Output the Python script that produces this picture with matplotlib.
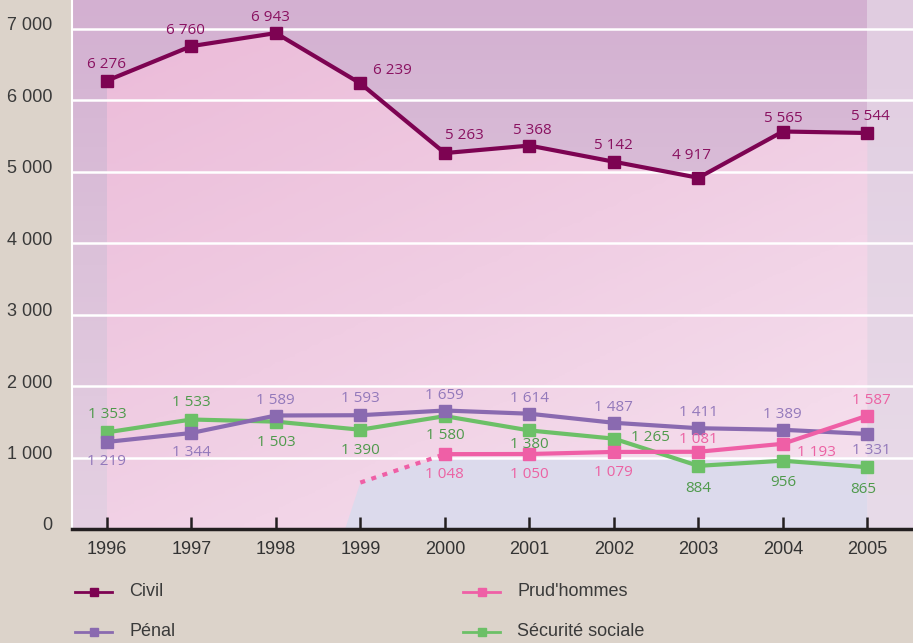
import numpy as np
import matplotlib.pyplot as plt
from matplotlib.lines import Line2D
from matplotlib.transforms import ScaledTranslation
from matplotlib.colors import LinearSegmentedColormap

years = [1996, 1997, 1998, 1999, 2000, 2001, 2002, 2003, 2004, 2005]
civil = [6276, 6760, 6943, 6239, 5263, 5368, 5142, 4917, 5565, 5544]
penal = [1219, 1344, 1589, 1593, 1659, 1614, 1487, 1411, 1389, 1331]
secu = [1353, 1533, 1503, 1390, 1580, 1380, 1265, 884, 956, 865]
prud_years = [2000, 2001, 2002, 2003, 2004, 2005]
prud = [1048, 1050, 1079, 1081, 1193, 1587]
prud_1999_est = 650   # start of dotted segment (estimate)

# label offsets in points (dx, dy)
civil_off = [(0, 12), (-4, 11), (-4, 11), (23, 9), (14, 13), (2, 11), (0, 12), (-5, 16), (0, 9), (2, 12)]
penal_off = [(0, -14), (0, -14), (0, 11), (0, 12), (0, 11), (0, 11), (0, 11), (0, 11), (0, 11), (3, -12)]
secu_off = [(0, 13), (0, 12), (0, -15), (0, -15), (0, -14), (0, -10), (26, 1), (0, -16), (0, -16), (-3, -16)]
prud_off = [(0, -15), (0, -15), (0, -15), (0, 9), (24, -6), (3, 11)]

bg = '#dcd3ca'
c_civil, c_penal, c_prud, c_secu = '#7d0352', '#8a6ab0', '#ef5fa6', '#6cc067'
t_civil, t_penal, t_prud, t_secu = '#8a1261', '#9379bb', '#ec62a3', '#4f9a4c'

fig = plt.figure(figsize=(9.13, 6.43), dpi=100, facecolor=bg)
ax = fig.add_axes([72 / 913, 114 / 643, 841 / 913, 529 / 643])
x0, x1 = 1995.588, 2005.54
y0, y1 = 0, 7406

# background gradient (mauve, lighter towards the bottom)
g = np.linspace(0, 1, 256).reshape(-1, 1)
cm_bg = LinearSegmentedColormap.from_list('bg', ['#d3b0d1', '#dcc2da', '#e4d0e2'])
ax.imshow(g, cmap=cm_bg, extent=[x0, x1, y0, y1], origin='upper', aspect='auto', zorder=0)
ax.axvspan(2005, x1, color='#ece4ee', alpha=0.55, zorder=0.5, lw=0)

# pink area under the civil line
poly = ax.fill_between(years, civil, 0, color='none', lw=0, zorder=1)
gx, gy = np.meshgrid(np.linspace(0, 1, 64), np.linspace(0, 1, 256))
cm_pk = LinearSegmentedColormap.from_list('pk', ['#ebbad8', '#f0cde3', '#f6e2ef'])
im = ax.imshow(0.6 * gy + 0.4 * gx, cmap=cm_pk, extent=[1996, 2005, y0, y1],
               origin='upper', aspect='auto', zorder=1)
im.set_clip_path(poly.get_paths()[0], transform=ax.transData)
ax.set_xlim(x0, x1)
ax.set_ylim(y0, y1)

# bluish area under prud'hommes
ax.fill([1998.82, 1999, 1999.5, 2000, 2005, 2005], [0, prud_1999_est, 850, 1000, 1000, 0],
        color='#dcdaec', lw=0, zorder=1.5)

for v in range(1000, 8000, 1000):
    ax.axhline(v, color='white', lw=1.8, zorder=2)

ax.plot([1999, 2000], [prud_1999_est, prud[0]], color=c_prud, lw=3, ls=(0, (1.2, 1.6)), zorder=3)

series = [(years, secu, c_secu, t_secu, secu_off),
          (years, penal, c_penal, t_penal, penal_off),
          (prud_years, prud, c_prud, t_prud, prud_off),
          (years, civil, c_civil, t_civil, civil_off)]
for xs, ys, c, tc, offs in series:
    ax.plot(xs, ys, color=c, lw=3, marker='s', ms=9, zorder=4)
    for xv, yv, (dx, dy) in zip(xs, ys, offs):
        txt = f'{yv:,}'.replace(',', ' ')
        ax.annotate(txt, (xv, yv), xytext=(dx, dy), textcoords='offset points',
                    ha='center', va='center', fontsize=11, color=tc,
                    family='Open Sans', zorder=5)

# axes styling
for s in ['top', 'right']:
    ax.spines[s].set_visible(False)
ax.spines['left'].set_color('white')
ax.spines['left'].set_linewidth(1.5)
ax.spines['bottom'].set_color('#231f20')
ax.spines['bottom'].set_linewidth(2.5)
ax.set_xticks(years)
ax.set_xticklabels([str(y) for y in years], fontsize=13, color='#333333', family='Liberation Sans')
ax.tick_params(axis='x', direction='in', length=9, width=1.8, color='#231f20', pad=9)
ax.set_yticks(range(0, 8000, 1000))
ax.set_yticklabels([f'{v:,}'.replace(',', ' ') for v in range(0, 8000, 1000)],
                   fontsize=13, color='#3a3a3a', family='Liberation Sans')
ax.tick_params(axis='y', length=0, pad=14)
for lab in ax.get_yticklabels():
    lab.set_transform(lab.get_transform() + ScaledTranslation(0, 5 / 100, fig.dpi_scale_trans))

# legend
leg = [('Civil', c_civil, 75, 592), ('Pénal', c_penal, 75, 632),
       ("Prud'hommes", c_prud, 463, 592), ('Sécurité sociale', c_secu, 463, 632)]
for name, c, lx, ly in leg:
    yy = 1 - ly / 643
    fig.add_artist(Line2D([lx / 913, (lx + 37) / 913], [yy, yy], color=c, lw=2,
                          transform=fig.transFigure))
    fig.add_artist(Line2D([(lx + 18.5) / 913], [yy], color=c, marker='s', ms=5.5,
                          transform=fig.transFigure))
    fig.text((lx + 54) / 913, yy, name, fontsize=13, color='#3a3a3a',
             family='Liberation Sans', va='center', ha='left')

fig.savefig('out.png', dpi=100, facecolor=bg)
